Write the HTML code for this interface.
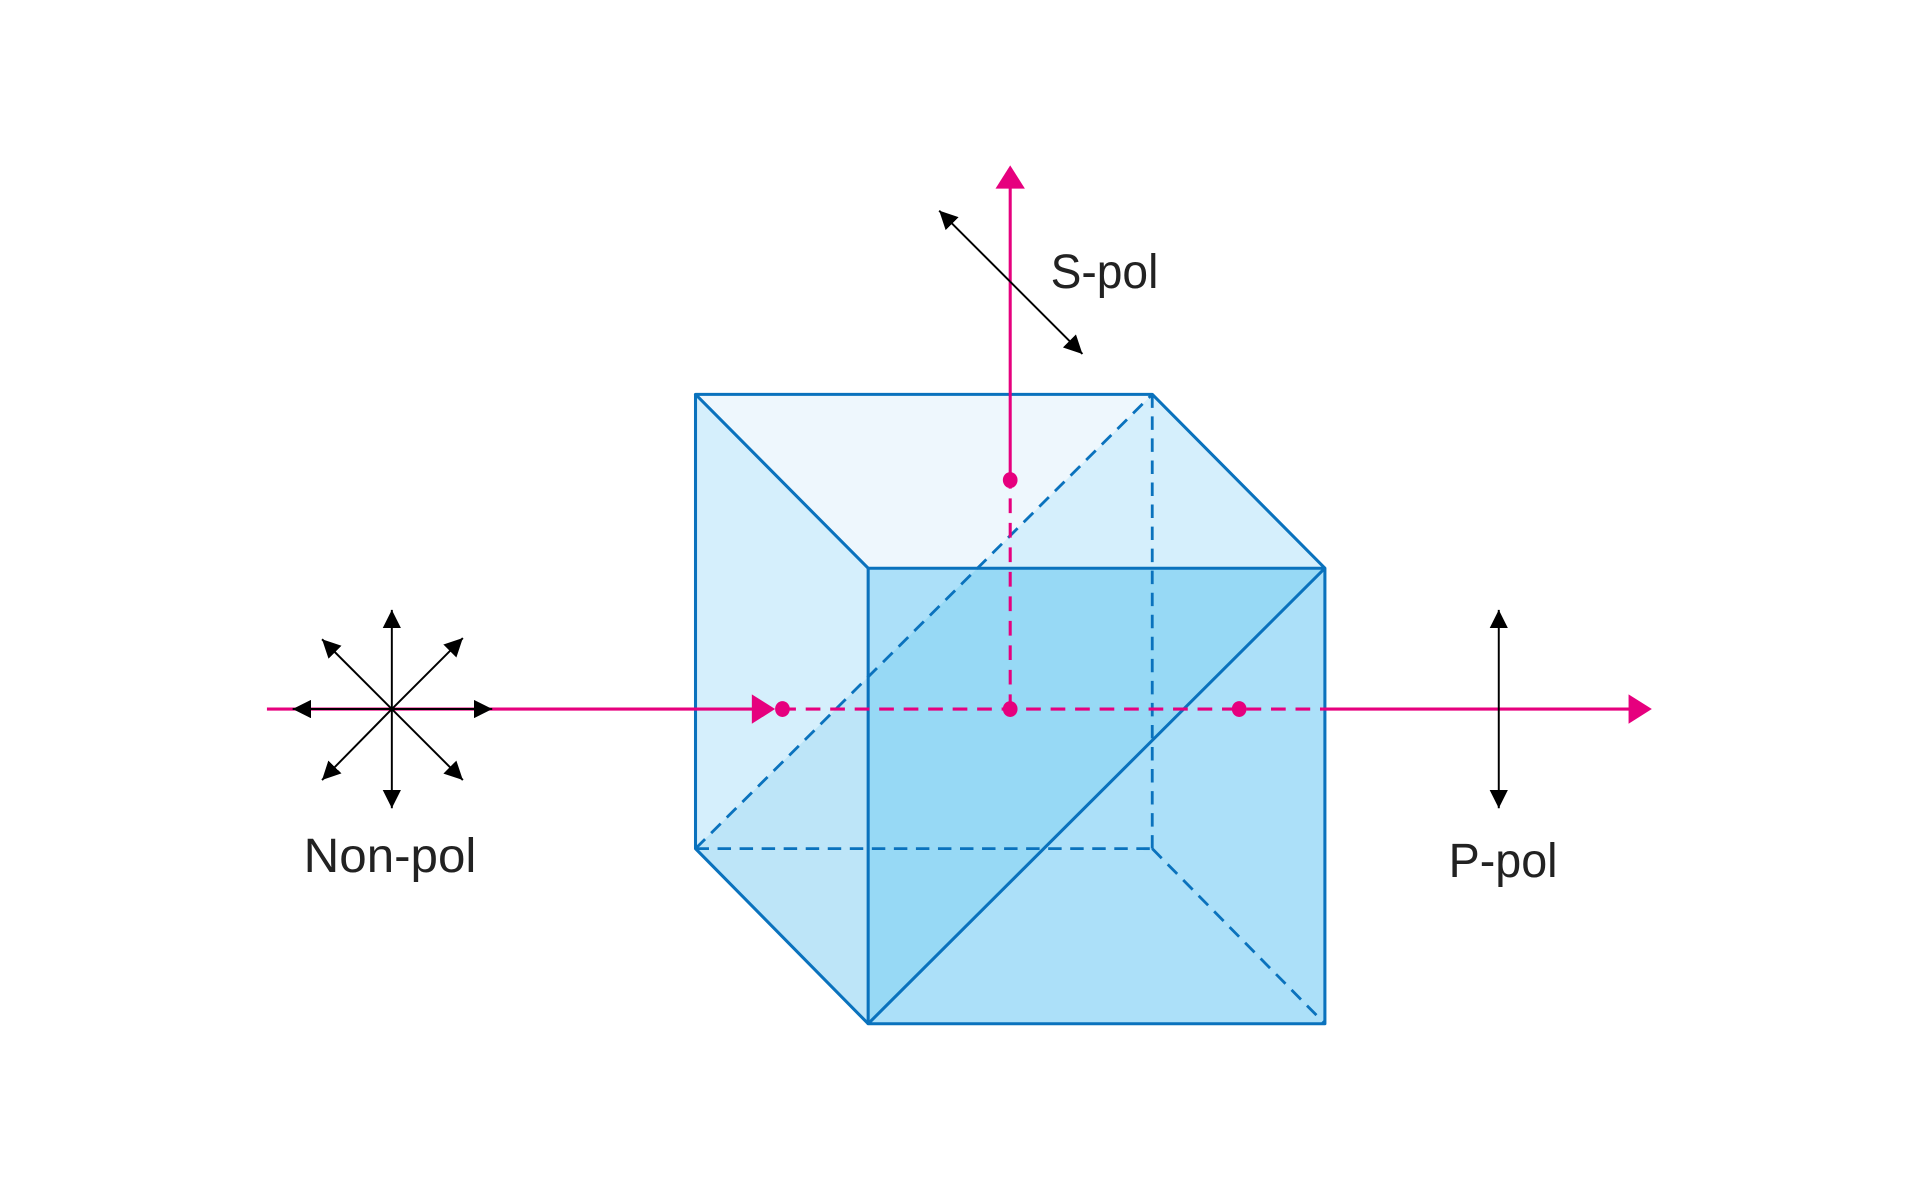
<!DOCTYPE html>
<html><head><meta charset="utf-8"><style>html,body{margin:0;padding:0;background:#fff}svg{display:block}</style></head>
<body>
<svg width="1920" height="1194" viewBox="0 0 1568 975" xmlns="http://www.w3.org/2000/svg">
<defs>
<marker id="abk" viewBox="0 0 10 10" refX="10" refY="5" markerWidth="15" markerHeight="15" markerUnits="userSpaceOnUse" orient="auto-start-reverse"><path d="M0,0 L10,5 L0,10 Z" fill="#000"/></marker>
<clipPath id="cT"><polygon points="568,322 941,322 1082,464 709,464"/></clipPath>
<clipPath id="cL"><polygon points="568,322 709,464 709,836 568,693"/></clipPath>
<clipPath id="cF"><polygon points="709,464 1082,464 1082,836 709,836"/></clipPath>
</defs>
<rect width="1568" height="975" fill="#fff"/>
<polygon points="568,322 941,322 1082,464 709,464" fill="#eef7fd"/>
<polygon points="568,322 709,464 709,836 568,693" fill="#d5effc"/>
<polygon points="709,464 1082,464 1082,836 709,836" fill="#ace0f9"/>
<polygon points="568,693 941,322 1082,464 709,836" fill="#d5effc" clip-path="url(#cT)"/>
<polygon points="568,693 941,322 1082,464 709,836" fill="#bde5f8" clip-path="url(#cL)"/>
<polygon points="568,693 941,322 1082,464 709,836" fill="#97d9f5" clip-path="url(#cF)"/>
<g stroke="#0a72bd" stroke-width="2.3" fill="none" stroke-dasharray="11,7">
<line x1="941" y1="322" x2="941" y2="693"/>
<line x1="568" y1="693" x2="941" y2="693"/>
<line x1="941" y1="693" x2="1082" y2="836"/>
<line x1="568" y1="693" x2="941" y2="322"/>
</g>
<g stroke="#0a72bd" stroke-width="2.5" fill="none" stroke-linejoin="round">
<polyline points="709,464 568,322 941,322 1082,464"/>
<polyline points="568,322 568,693 709,836"/>
<rect x="709" y="464" width="373" height="372"/>
<line x1="709" y1="836" x2="1082" y2="464"/>
</g>
<g stroke="#e6007e" stroke-width="2.5" fill="none">
<line x1="218" y1="579" x2="616" y2="579"/>
<line x1="638" y1="579" x2="1080" y2="579" stroke-dasharray="12,8"/>
<line x1="1080" y1="579" x2="1334" y2="579"/>
<line x1="825" y1="579" x2="825" y2="392" stroke-dasharray="12,8"/>
<line x1="825" y1="392" x2="825" y2="150"/>
</g>
<g fill="#e6007e">
<polygon points="614,567 633,579 614,591"/>
<polygon points="1330,567 1349,579 1330,591"/>
<polygon points="813,154 825,135 837,154"/>
<ellipse cx="639" cy="579" rx="6" ry="6.5"/>
<ellipse cx="825" cy="579" rx="6" ry="6.5"/>
<ellipse cx="1012" cy="579" rx="6" ry="6.5"/>
<ellipse cx="825" cy="392" rx="6" ry="6.5"/>
</g>
<g stroke="#000" stroke-width="1.6" fill="none">
<line x1="320" y1="579" x2="320" y2="498" marker-end="url(#abk)"/>
<line x1="320" y1="579" x2="320" y2="660" marker-end="url(#abk)"/>
<line x1="320" y1="579" x2="239" y2="579" marker-end="url(#abk)"/>
<line x1="320" y1="579" x2="402" y2="579" marker-end="url(#abk)"/>
<line x1="320" y1="579" x2="263" y2="522" marker-end="url(#abk)"/>
<line x1="320" y1="579" x2="378" y2="521" marker-end="url(#abk)"/>
<line x1="320" y1="579" x2="263" y2="637" marker-end="url(#abk)"/>
<line x1="320" y1="579" x2="378" y2="637" marker-end="url(#abk)"/>
<line x1="825" y1="230" x2="767" y2="172" marker-end="url(#abk)"/>
<line x1="825" y1="230" x2="884" y2="289" marker-end="url(#abk)"/>
<line x1="1224" y1="579" x2="1224" y2="498" marker-end="url(#abk)"/>
<line x1="1224" y1="579" x2="1224" y2="660" marker-end="url(#abk)"/>
</g>
<g font-family="Liberation Sans, sans-serif" font-size="39" fill="#222">
<text x="858" y="235" textLength="88" lengthAdjust="spacingAndGlyphs">S-pol</text>
<text x="248" y="712" textLength="141" lengthAdjust="spacingAndGlyphs">Non-pol</text>
<text x="1183" y="716" textLength="89" lengthAdjust="spacingAndGlyphs">P-pol</text>
</g>
</svg>
</body></html>
